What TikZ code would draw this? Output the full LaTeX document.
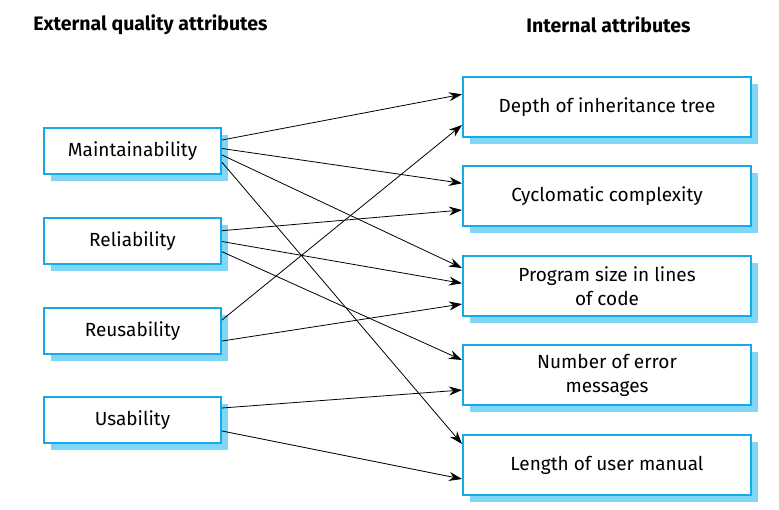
\documentclass[tikz,border=0pt]{standalone}
\usepackage{fontspec}
\setmainfont{Fira Sans}
\usetikzlibrary{arrows.meta,shadows}

\definecolor{boxblue}{RGB}{22,170,232}
\definecolor{shadowblue}{RGB}{128,214,245}

\begin{document}
\begin{tikzpicture}[x=1pt, y=-1pt,
    attr/.style={draw=boxblue, line width=2pt, fill=white, align=center,
      inner sep=0pt, font=\fontsize{19}{24}\selectfont,
      general shadow={fill=shadowblue, shadow xshift=7pt, shadow yshift=-7pt}},
    extbox/.style={attr, minimum width=177pt, minimum height=46pt},
    intbox/.style={attr, minimum width=288pt, minimum height=60pt},
    heading/.style={font=\fontsize{19.5}{24}\selectfont\bfseries, inner sep=0pt},
    link/.style={line width=0.8pt, -{Stealth[length=13pt,width=9pt]}}]

  %% ════ headings ════
  \node[heading] (exthead) at (150.5,25.0) {External quality attributes};
  \node[heading] (inthead) at (608.5,25.0) {Internal attributes};

  %% ════ external attributes ════
  \node[extbox] (maint)  at (132.5,151.0) {Maintainability};
  \node[extbox] (reli)   at (132.5,241.0) {Reliability};
  \node[extbox] (reuse)  at (132.5,331.0) {Reusability};
  \node[extbox] (usab)   at (132.5,420.0) {Usability};

  %% ════ internal attributes ════
  \node[intbox] (depth)  at (607.0,107.0) {Depth of inheritance tree};
  \node[intbox] (cyclo)  at (607.0,196.0) {Cyclomatic complexity};
  \node[intbox] (size)   at (607.0,286.0) {Program size in lines\\of code};
  \node[intbox] (errmsg) at (607.0,375.0) {Number of error\\messages};
  \node[intbox] (manual) at (607.0,465.0) {Length of user manual};

  %% ════ links ════
  \draw[link] ([yshift=11pt]maint.east)    -- ([yshift=12.7pt]depth.west);
  \draw[link] ([yshift=2.5pt]maint.east)   -- ([yshift=12.7pt]cyclo.west);
  \draw[link] ([yshift=-4pt]maint.east)    -- ([yshift=18pt]size.west);
  \draw[link] ([yshift=-11.3pt]maint.east) -- ([yshift=21pt]manual.west);

  \draw[link] ([yshift=10.3pt]reli.east)   -- ([yshift=-14pt]cyclo.west);
  \draw[link] ([yshift=-0.5pt]reli.east)   -- ([yshift=2.7pt]size.west);
  \draw[link] ([yshift=-10.7pt]reli.east)  -- ([yshift=15pt]errmsg.west);

  \draw[link] ([yshift=11pt]reuse.east)    -- ([yshift=-18pt]depth.west);
  \draw[link] ([yshift=-10pt]reuse.east)   -- ([yshift=-18pt]size.west);

  \draw[link] ([yshift=12pt]usab.east)     -- ([yshift=-15pt]errmsg.west);
  \draw[link] ([yshift=-11pt]usab.east)    -- ([yshift=-14pt]manual.west);

  % fix the canvas
  \pgfresetboundingbox
  \path[use as bounding box] (0,0) rectangle (779,509);
\end{tikzpicture}
\end{document}
